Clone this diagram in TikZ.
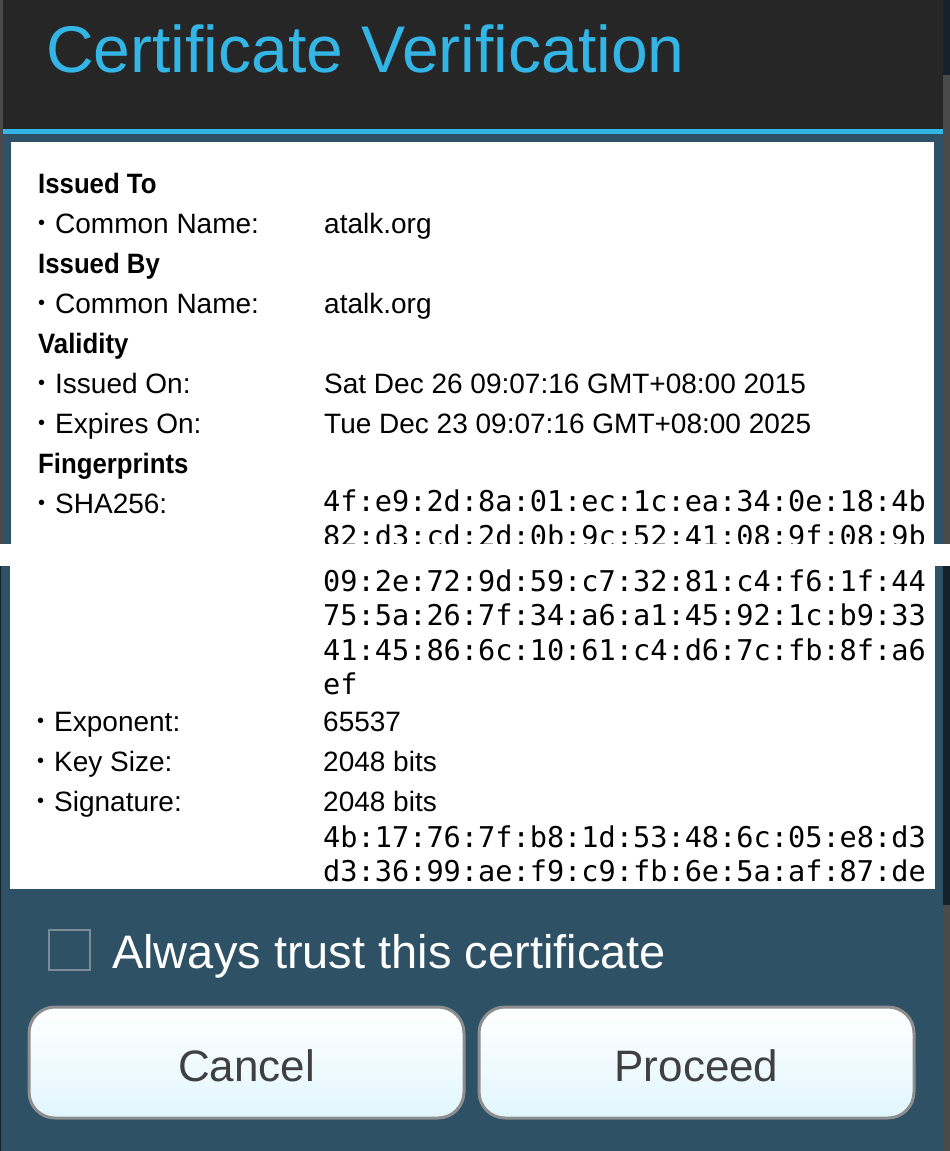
\documentclass[tikz,border=0pt]{standalone}
\usepackage{fontspec}
\setmainfont{Liberation Sans}
\setmonofont{DejaVu Sans Mono}
\newfontfamily\headfont[FakeStretch=0.92]{Liberation Sans}
\newcommand{\itembullet}{\makebox[17pt][l]{\raisebox{3.5pt}{\fontsize{20}{20}\selectfont •}}}
\definecolor{titlebg}{HTML}{262626}
\definecolor{holoblue}{HTML}{33B5E5}
\definecolor{slate}{HTML}{2E5166}
\definecolor{edgegray}{HTML}{4A4A4A}
\definecolor{edgedark}{HTML}{15212B}
\definecolor{boxgray}{HTML}{7A8C97}
\definecolor{btnborder}{HTML}{8E8E8E}
\definecolor{btnbottom}{HTML}{E1F6FE}
\definecolor{btntext}{HTML}{404040}

\begin{document}
\begin{tikzpicture}[x=1pt, y=-1pt,
    heading/.style={anchor=base west, inner sep=0pt, font=\headfont\bfseries\fontsize{28}{28}\selectfont},
    field/.style={anchor=base west, inner sep=0pt, font=\fontsize{28}{28}\selectfont},
    hexline/.style={anchor=base west, inner sep=0pt, font=\ttfamily\fontsize{28.6}{28.6}\selectfont},
    button/.style={rounded corners=26pt, draw=btnborder, line width=3pt, top color=white, bottom color=btnbottom},
    btnlabel/.style={anchor=base, inner sep=0pt, text=btntext, font=\fontsize{44}{44}\selectfont}]
\useasboundingbox (0,0) rectangle (950,1151);
% upper screenshot
\fill [edgegray] (0,0) rectangle (950,544);
\fill [edgedark] (943,0) rectangle (950,75);
\fill [titlebg] (3,0) rectangle (943,129);
\fill [holoblue] (3,129) rectangle (943,134);
\fill [slate] (3,134) rectangle (943,544);
\fill [white] (11,142) rectangle (934,544);
\node [anchor=base west, inner sep=0pt, text=holoblue, font=\fontsize{66}{66}\selectfont] (title) at (46,72) {Certificate Verification};
\node [heading] (issuedto) at (38,193) {Issued To};
\node [field] (tocn) at (38,233) {\itembullet Common Name:};
\node [field] (tocnval) at (324,233) {atalk.org};
\node [heading] (issuedby) at (38,273) {Issued By};
\node [field] (bycn) at (38,313) {\itembullet Common Name:};
\node [field] (bycnval) at (324,313) {atalk.org};
\node [heading] (validity) at (38,353) {Validity};
\node [field] (issuedon) at (38,393) {\itembullet Issued On:};
\node [field] (issuedonval) at (324,393) {Sat Dec 26 09:07:16 GMT+08:00 2015};
\node [field] (expires) at (38,433) {\itembullet Expires On:};
\node [field] (expiresval) at (324,433) {Tue Dec 23 09:07:16 GMT+08:00 2025};
\node [heading] (fingerprints) at (38,473) {Fingerprints};
\node [field] (sha) at (38,513) {\itembullet SHA256:};
\begin{scope}
\clip (0,0) rectangle (950,544);
\node [hexline] (shaa) at (323,511) {4f:e9:2d:8a:01:ec:1c:ea:34:0e:18:4b};
\node [hexline] (shab) at (323,546) {82:d3:cd:2d:0b:9c:52:41:08:9f:08:9b};
\end{scope}
% gap between the two screenshots
\fill [white] (0,544) rectangle (950,566);
% lower screenshot
\fill [slate] (0,566) rectangle (943,1151);
\fill [edgedark] (0,566) rectangle (1,1151);
\fill [edgedark] (943,566) rectangle (950,905);
\fill [edgegray] (943,905) rectangle (950,1151);
\fill [white] (10,566) rectangle (935,889);
\foreach \hx [count=\i] in {09:2e:72:9d:59:c7:32:81:c4:f6:1f:44,75:5a:26:7f:34:a6:a1:45:92:1c:b9:33,41:45:86:6c:10:61:c4:d6:7c:fb:8f:a6,ef} {
    \node [hexline] (shac\i) at (323,{556.5+34.5*\i}) {\hx};
}
\node [field] (exponent) at (37,731) {\itembullet Exponent:};
\node [field] (exponentval) at (323,731) {65537};
\node [field] (keysize) at (37,771) {\itembullet Key Size:};
\node [field] (keysizeval) at (323,771) {2048 bits};
\node [field] (signature) at (37,811) {\itembullet Signature:};
\node [field] (signatureval) at (323,811) {2048 bits};
\node [hexline] (siga) at (323,847) {4b:17:76:7f:b8:1d:53:48:6c:05:e8:d3};
\node [hexline] (sigb) at (323,881) {d3:36:99:ae:f9:c9:fb:6e:5a:af:87:de};
% trust checkbox
\draw [boxgray, line width=2pt] (49,930) rectangle (90,970);
\node [anchor=base west, inner sep=0pt, text=white, font=\fontsize{47}{47}\selectfont] (trust) at (112,968) {Always trust this certificate};
% buttons
\draw [button] (29,1007) rectangle (464,1118);
\node [btnlabel] (cancel) at (246.5,1081) {Cancel};
\draw [button] (479,1007) rectangle (914,1118);
\node [btnlabel] (proceed) at (696.5,1081) {Proceed};
\end{tikzpicture}
\end{document}
